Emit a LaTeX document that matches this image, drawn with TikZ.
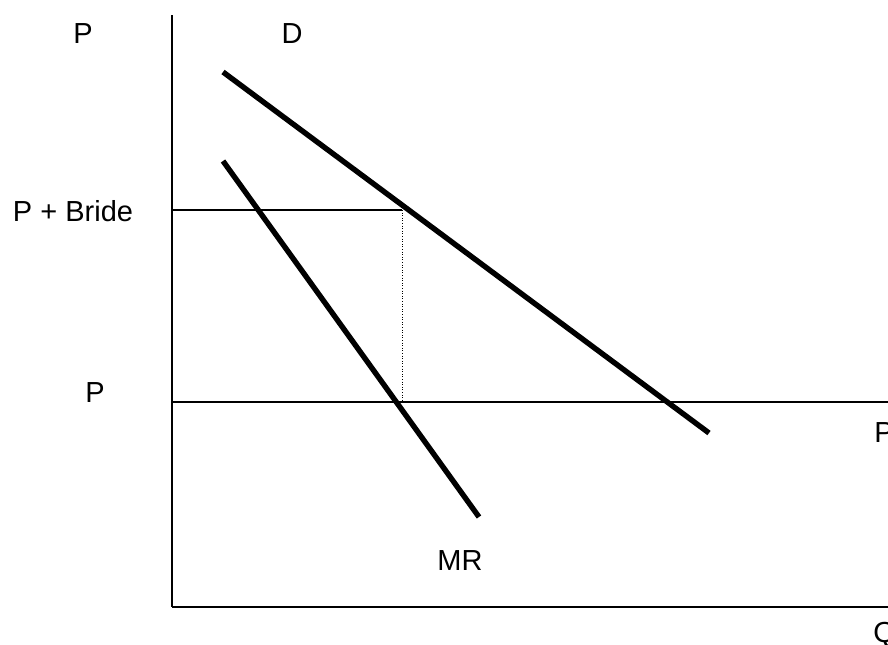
\documentclass[tikz,border=0pt]{standalone}
\usepackage{fontspec}
\setmainfont{Liberation Sans}

\begin{document}
\begin{tikzpicture}[
  x=0.5pt, y=-0.5pt,
  axis/.style={draw=black, line width=1.1pt},
  curve/.style={draw=black, line width=2.7pt},
  guide/.style={draw=black, line width=0.5pt, dash pattern=on 0.5pt off 0.8pt},
  lbl/.style={font=\fontsize{14.5}{17}\selectfont, inner sep=0pt}
]
\useasboundingbox (0,0) rectangle (888,644);

% === Axes ===
\coordinate (top) at (172,15);
\coordinate (origin) at (172,607);
\coordinate (xend) at (900,607);
\draw[axis] (top) -- (origin);
\draw[axis] (origin) -- (xend);

% === Price levels ===
\coordinate (pb) at (172,210);
\coordinate (pbd) at (402,210);
\coordinate (pw) at (172,402);
\coordinate (pwd) at (402,402);
\coordinate (pend) at (900,402);
\draw[axis] (pb) -- (pbd);
\draw[axis] (pw) -- (pend);
\draw[guide] (pbd) -- (pwd);

% === Demand and MR ===
\coordinate (d1) at (223,72);
\coordinate (d2) at (709,433);
\coordinate (mr1) at (223,161);
\coordinate (mr2) at (479,517);
\draw[curve] (d1) -- (d2);
\draw[curve] (mr1) -- (mr2);

% === Labels ===
\node[lbl] (ptop) at (83,34) {P};
\node[lbl] (dlbl) at (292,34) {D};
\node[lbl] (pbride) at (73,211) {P + Bride};
\node[lbl] (pmid) at (95,393) {P};
\node[lbl, anchor=west] (pright) at (874,433) {P};
\node[lbl] (mrlbl) at (460,561) {MR};
\node[lbl, anchor=west] (qlbl) at (873,635) {Q};

\end{tikzpicture}
\end{document}
